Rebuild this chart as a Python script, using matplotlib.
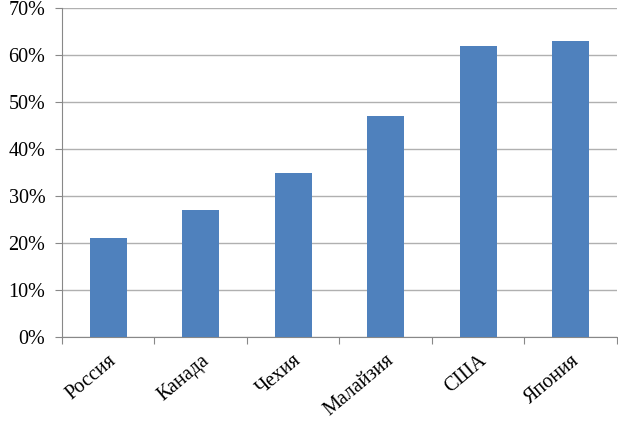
import matplotlib
matplotlib.use("Agg")
import matplotlib.pyplot as plt
from matplotlib.ticker import FuncFormatter

categories = ["Россия", "Канада", "Чехия", "Малайзия", "США", "Япония"]
values = [21, 27, 35, 47, 62, 63]
yticks = [0, 10, 20, 30, 40, 50, 60, 70]

plt.rcParams['font.family'] = ['Liberation Serif', 'DejaVu Serif']

fig = plt.figure(figsize=(6.18, 4.21), dpi=100)
ax = fig.add_axes([0.1003, 0.1995, 0.8977, 0.7815])

x = list(range(len(categories)))
ax.bar(x, values, width=0.4, color="#4F81BD", zorder=3)

ax.set_xlim(-0.5, len(categories) - 0.5)
ax.set_ylim(0, 70)
ax.set_yticks(yticks)
ax.yaxis.set_major_formatter(FuncFormatter(lambda v, p: f"{int(v)}%"))
ax.yaxis.grid(True, color="#B0B0B0", linewidth=1.0, zorder=0)

ax.set_xticks([i - 0.5 for i in range(len(categories) + 1)], minor=False)
ax.set_xticklabels([])
ax.set_xticks(x, minor=True)
ax.set_xticklabels(categories, minor=True, rotation=40, ha="right", va="top",
                   rotation_mode="anchor", fontsize=14.5)
ax.tick_params(axis="x", which="minor", length=0, pad=10)
ax.tick_params(axis="x", which="major", length=5, color="#888888", direction="out")
ax.tick_params(axis="y", length=5, color="#888888", direction="out", labelsize=14.5, pad=7)

for s in ["top", "right"]:
    ax.spines[s].set_visible(False)
ax.spines["left"].set_color("#888888")
ax.spines["bottom"].set_color("#888888")

fig.savefig("out.png", dpi=100)
